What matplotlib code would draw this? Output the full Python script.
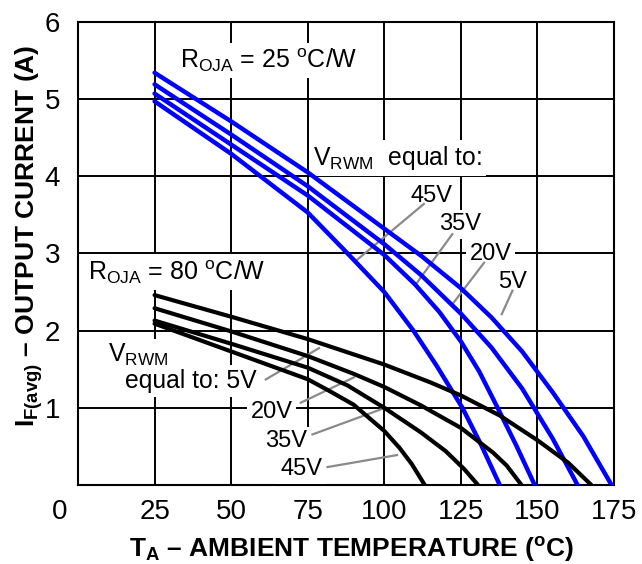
import matplotlib
matplotlib.use('Agg')
import matplotlib.pyplot as plt

plt.rcParams['font.family'] = ['Liberation Sans', 'DejaVu Sans']
plt.rcParams['mathtext.fontset'] = 'custom'
plt.rcParams['mathtext.rm'] = 'Liberation Sans'
plt.rcParams['mathtext.it'] = 'Liberation Sans:italic'
plt.rcParams['mathtext.bf'] = 'Liberation Sans:bold'

# ---------------- data ----------------
x_ticks = [0, 25, 50, 75, 100, 125, 150, 175]
y_ticks = [0, 1, 2, 3, 4, 5, 6]
vrwm_labels = ['5V', '20V', '35V', '45V']

# R_OJA = 25 C/W (blue)
r25_t_5v = [25, 50, 75, 100, 112, 125, 135, 145, 155, 165, 174.2]
r25_i_5v = [5.34, 4.71, 4.05, 3.32, 2.97, 2.55, 2.17, 1.73, 1.20, 0.63, 0.0]
r25_t_20v = [25, 50, 75, 100, 112, 125, 135, 145, 155, 163.1]
r25_i_20v = [5.19, 4.54, 3.87, 3.12, 2.72, 2.22, 1.78, 1.25, 0.60, 0.0]
r25_t_35v = [25, 50, 75, 100, 110, 118, 125, 131, 137, 143, 149.1]
r25_i_35v = [5.07, 4.41, 3.75, 2.98, 2.60, 2.24, 1.86, 1.47, 1.0, 0.52, 0.0]
r25_t_45v = [25, 50, 75, 88, 100, 109.5, 117, 125.5, 131.5, 137.7]
r25_i_45v = [4.97, 4.29, 3.53, 3.0, 2.5, 2.0, 1.55, 1.0, 0.53, 0.0]

# R_OJA = 80 C/W (black)
r80_t_5v = [25, 50, 75, 100, 115, 125, 137.7, 150, 160, 167.6]
r80_i_5v = [2.46, 2.18, 1.89, 1.56, 1.33, 1.16, 0.90, 0.58, 0.29, 0.0]
r80_t_20v = [25, 50, 75, 90, 100, 112, 125, 135.5, 140, 144.8]
r80_i_20v = [2.29, 1.99, 1.67, 1.44, 1.27, 1.03, 0.74, 0.42, 0.25, 0.0]
r80_t_35v = [25, 50, 75, 88, 100, 112, 120, 126, 130.6]
r80_i_35v = [2.13, 1.83, 1.52, 1.29, 1.0, 0.68, 0.44, 0.21, 0.0]
r80_t_45v = [25, 50, 75, 82, 90, 100, 105, 109, 113.2]
r80_i_45v = [2.09, 1.73, 1.37, 1.22, 1.04, 0.70, 0.48, 0.27, 0.0]

blue_t = [r25_t_5v, r25_t_20v, r25_t_35v, r25_t_45v]
blue_i = [r25_i_5v, r25_i_20v, r25_i_35v, r25_i_45v]
black_t = [r80_t_5v, r80_t_20v, r80_t_35v, r80_t_45v]
black_i = [r80_i_5v, r80_i_20v, r80_i_35v, r80_i_45v]

# ---------------- figure ----------------
W, H = 642, 564
fig = plt.figure(figsize=(W / 100, H / 100), dpi=100)
ax = fig.add_axes([78 / W, 1 - 485 / H, (614 - 78) / W, (485 - 21.8) / H])

ax.set_xlim(0, 175)
ax.set_ylim(0, 6)
ax.set_xticks(x_ticks)
ax.set_yticks(y_ticks)
ax.set_xticklabels([''] + [str(v) for v in x_ticks[1:]])
ax.set_yticklabels([''] + [str(v) for v in y_ticks[1:]])
ax.tick_params(axis='both', length=0, labelsize=20, colors='black')
ax.tick_params(axis='x', pad=10)
ax.tick_params(axis='y', pad=13)
ax.set_axisbelow(True)
ax.grid(True, color='black', lw=1.4)
for s in ax.spines.values():
    s.set_linewidth(1.5)
    s.set_color('black')

# shared origin label
ax.annotate('0', xy=(0, 0), xycoords='data', xytext=(-13, -10),
            textcoords='offset points', ha='center', va='top', fontsize=20,
            annotation_clip=False)

for t, i in zip(blue_t, blue_i):
    ax.plot(t, i, color='#0000ff', lw=3.2, solid_capstyle='round',
            solid_joinstyle='round', zorder=3)
for t, i in zip(black_t, black_i):
    ax.plot(t, i, color='black', lw=3.0, solid_capstyle='round',
            solid_joinstyle='round', zorder=3)

box = dict(boxstyle='square,pad=0.15', fc='white', ec='none')
fs = 17
grey = '#8a8a8a'

def label(x, y, s, ha='left', size=fs):
    ax.text(x, y, s, ha=ha, va='baseline', fontsize=size, bbox=box, zorder=2.6)

def leader(p0, p1):
    ax.plot([p0[0], p1[0]], [p0[1], p1[1]], color=grey, lw=1.6, zorder=2.7,
            solid_capstyle='butt')

# blue group annotations
label(33.3, 5.40, r'$\mathrm{R_{OJA}}$ = 25 $^{\mathrm{o}}$C/W', size=18)
label(76.7, 4.145, r'$\mathrm{V_{RWM}}$  equal to:', size=17.8)
label(115.4, 3.67, vrwm_labels[3], ha='center')
label(124.9, 3.30, vrwm_labels[2], ha='center')
label(134.7, 2.91, vrwm_labels[1], ha='center')
label(142.0, 2.55, vrwm_labels[0], ha='center')
leader((113.2, 3.65), (90.9, 2.91))
leader((122.4, 3.26), (110.5, 2.61))
leader((132.8, 2.89), (122.4, 2.35))
leader((142.0, 2.53), (138.2, 2.20))

# black group annotations
label(3.4, 2.66, r'$\mathrm{R_{OJA}}$ = 80 $^{\mathrm{o}}$C/W', size=18)
label(9.8, 1.59, r'$\mathrm{V_{RWM}}$', size=17.8)
label(15.3, 1.256, 'equal to: ' + vrwm_labels[0], size=17.8)
label(63.2, 0.87, vrwm_labels[1], ha='center')
label(68.0, 0.49, vrwm_labels[2], ha='center')
label(73.0, 0.13, vrwm_labels[3], ha='center')
leader((61.0, 1.36), (79.0, 1.78))
leader((72.4, 1.06), (90.4, 1.40))
leader((76.2, 0.65), (99.6, 0.99))
leader((81.1, 0.23), (104.5, 0.39))

# axis titles
fig.text(351 / W, 1 - 557 / H,
         r'$\mathbf{T_A}$ – AMBIENT TEMPERATURE ($^{\mathbf{o}}$C)',
         ha='center', va='baseline', fontsize=19, fontweight='bold')
fig.text(29 / W, 1 - 236 / H,
         r'$\mathbf{I_{F(avg)}}$ – OUTPUT CURRENT (A)',
         ha='center', va='center', rotation=90, fontsize=19, fontweight='bold')

fig.savefig('out.png', dpi=100)
